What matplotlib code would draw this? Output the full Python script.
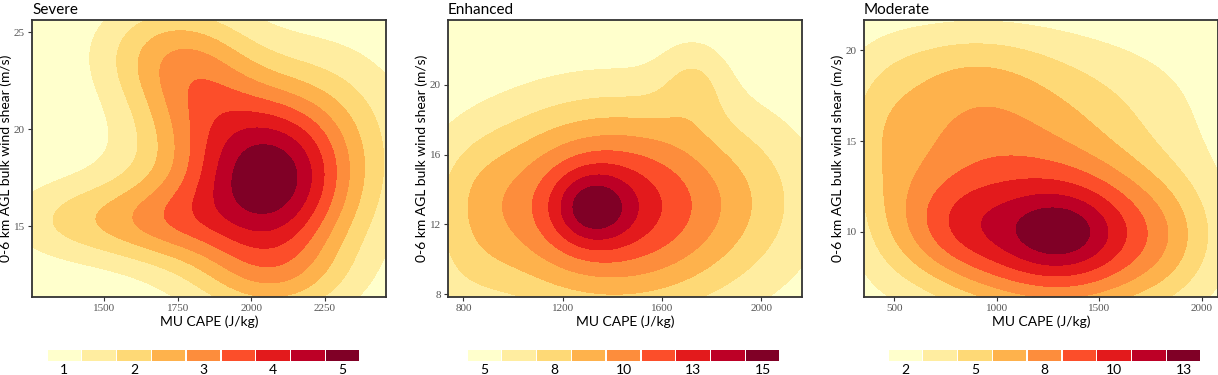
import numpy as np
import matplotlib.pyplot as plt

# YlOrRd, 9 density bands
band_colors = ['#ffffcc', '#ffeda0', '#fed976', '#feb24c', '#fd8d3c',
               '#fc4e2a', '#e31a1c', '#bd0026', '#800026']

titles = ['Severe', 'Enhanced', 'Moderate']
xlims = [(1255, 2457), (738, 2164), (353, 2078)]
ylims = [(11.36, 25.63), (7.83, 23.73), (6.4, 21.68)]
xticks = [[1500, 1750, 2000, 2250], [800, 1200, 1600, 2000], [500, 1000, 1500, 2000]]
yticks = [[15, 20, 25], [8, 12, 16, 20], [10, 15, 20]]
legend_labels = [['1', '2', '3', '4', '5'],
                 ['5', '8', '10', '13', '15'],
                 ['2', '5', '8', '10', '13']]

# kernel centres / spreads / weights
severe_cx = [2060, 2000, 1720, 1820, 1430, 2080, 2250, 1720]
severe_cy = [17.4, 16.8, 24.0, 21.5, 15.3, 12.3, 21.0, 15.3]
severe_sx = [180, 300, 180, 150, 200, 180, 220, 150]
severe_sy = [3.0, 3.3, 2.0, 2.2, 1.5, 1.6, 3.0, 1.5]
severe_w = [0.6, 0.35, 0.3, 0.25, 0.22, 0.2, 0.15, 0.2]

enhanced_cx = [1320, 1400, 1480, 850, 1730, 800, 2000]
enhanced_cy = [12.95, 13.0, 13.2, 13.5, 20.3, 9.0, 14.0]
enhanced_sx = [110, 380, 520, 120, 100, 150, 150]
enhanced_sy = [1.5, 4.0, 4.2, 2.5, 1.8, 2.0, 3.0]
enhanced_w = [0.3, 0.55, 0.2, 0.08, 0.15, 0.06, 0.03]

moderate_cx = [1300, 1300, 850, 850, 750, 450, 1850, 1550]
moderate_cy = [10.0, 9.8, 16.3, 19.5, 10.5, 13.0, 9.5, 17.0]
moderate_sx = [150, 420, 400, 300, 200, 150, 150, 400]
moderate_sy = [1.2, 3.0, 3.0, 1.5, 2.2, 4.0, 2.5, 3.0]
moderate_w = [0.1, 0.75, 0.32, 0.06, 0.2, 0.1, 0.05, 0.12]

components = [
    (severe_cx, severe_cy, severe_sx, severe_sy, severe_w),
    (enhanced_cx, enhanced_cy, enhanced_sx, enhanced_sy, enhanced_w),
    (moderate_cx, moderate_cy, moderate_sx, moderate_sy, moderate_w),
]


def density(comp, X, Y):
    cx, cy, sx, sy, w = comp
    Z = np.zeros_like(X)
    for a, b, c, d, e in zip(cx, cy, sx, sy, w):
        Z += e * np.exp(-0.5 * (((X - a) / c) ** 2 + ((Y - b) / d) ** 2))
    return Z


W, H = 1218, 375
fig = plt.figure(figsize=(W / 100, H / 100), dpi=100)

panel_left = [32, 448, 864]
panel_w = 354
legend_left = [47, 467, 888]
legend_w = 313

for i in range(3):
    ax = fig.add_axes([panel_left[i] / W, (H - 297) / H, panel_w / W, 277 / H])
    x = np.linspace(*xlims[i], 300)
    y = np.linspace(*ylims[i], 300)
    X, Y = np.meshgrid(x, y)
    Z = density(components[i], X, Y)
    levels = np.linspace(0, Z.max(), 10)
    levels[-1] *= 1.001
    ax.contourf(X, Y, Z, levels=levels, colors=band_colors)
    ax.set_xlim(xlims[i])
    ax.set_ylim(ylims[i])
    ax.set_xticks(xticks[i])
    ax.set_yticks(yticks[i])
    ax.tick_params(length=3, color='#333333', labelcolor='#555555', labelsize=8, pad=2)
    for lab in ax.get_xticklabels() + ax.get_yticklabels():
        lab.set_family('Liberation Serif')
    for s in ax.spines.values():
        s.set_color('#333333')
        s.set_linewidth(1.3)
    ax.set_xlabel('MU CAPE (J/kg)', fontsize=10, family='Lato')
    ax.set_ylabel('0-6 km AGL bulk wind shear (m/s)', fontsize=10, family='Lato')
    ax.xaxis.set_label_coords(0.5, -0.065)
    ax.yaxis.set_label_coords(-0.056, 0.5)
    ax.set_title(titles[i], loc='left', fontsize=11, family='Lato', pad=4)

    # discrete legend strip
    lax = fig.add_axes([legend_left[i] / W, (H - 361) / H, legend_w / W, 11 / H])
    lax.bar(range(9), [1] * 9, width=0.96, color=band_colors)
    lax.set_xlim(-0.5, 8.5)
    lax.set_ylim(0, 1)
    lax.set_yticks([])
    lax.set_xticks([0, 2, 4, 6, 8])
    lax.set_xticklabels(legend_labels[i], fontsize=10, family='Lato')
    lax.tick_params(length=0, pad=2)
    for s in lax.spines.values():
        s.set_visible(False)

fig.savefig('out.png', dpi=100)
